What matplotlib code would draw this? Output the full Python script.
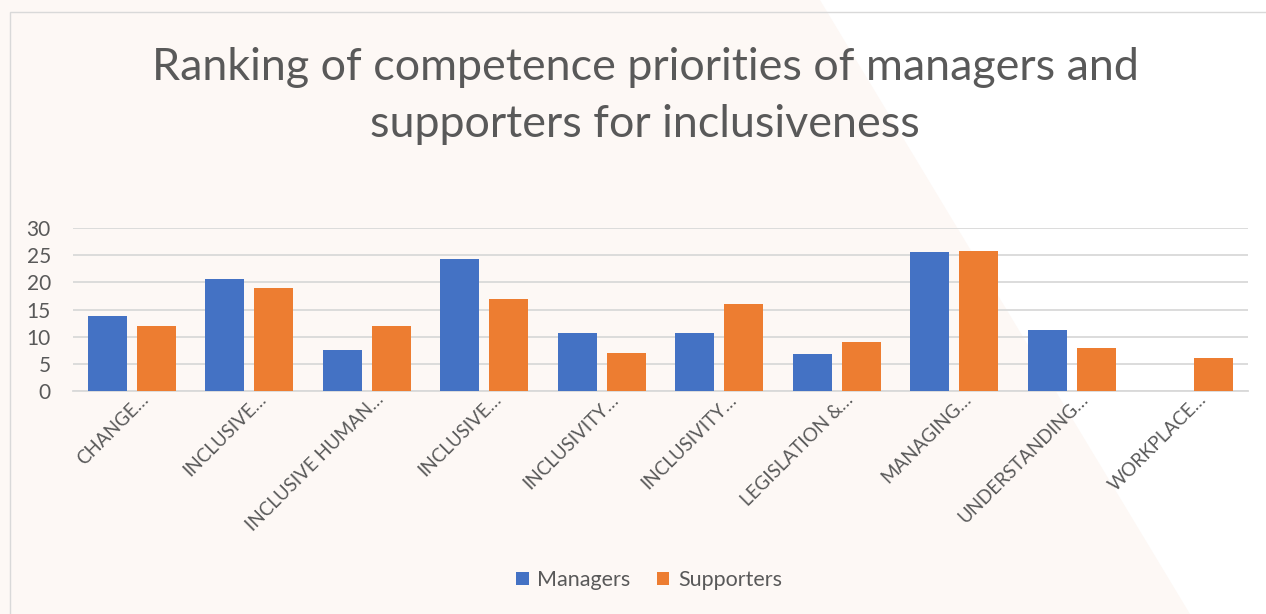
import matplotlib.pyplot as plt
import matplotlib.transforms as mtrans
from matplotlib.patches import Polygon, Rectangle
import numpy as np

plt.rcParams['font.family'] = ['Lato', 'DejaVu Sans']

categories = ["CHANGE…", "INCLUSIVE…", "INCLUSIVE HUMAN…", "INCLUSIVE…",
              "INCLUSIVITY…", "INCLUSIVITY…", "LEGISLATION &…", "MANAGING…",
              "UNDERSTANDING…", "WORKPLACE…"]
managers = [13.8, 20.6, 7.5, 24.3, 10.7, 10.6, 6.9, 25.5, 11.2, 0]
supporters = [12, 19, 12, 17, 7, 16, 9, 25.7, 8, 6]

blue = '#4472c4'
orange = '#ed7d31'
grey_text = '#595959'

W, H = 1266, 614
fig = plt.figure(figsize=(W / 100, H / 100), dpi=100)
fig.patch.set_facecolor('white')

# light tinted backdrop with a white wedge on the right
bg = Polygon([(0, 1), (820 / W, 1), (1190 / W, 0), (0, 0)], closed=True,
             transform=fig.transFigure, facecolor='#fdf8f5',
             edgecolor='none', zorder=-10)
fig.patches.append(bg)

# chart frame
frame = Rectangle((10 / W, -0.1), 1.2, (H - 12) / H + 0.1,
                  transform=fig.transFigure, facecolor='none',
                  edgecolor='#d9d9d9', linewidth=1.0, zorder=-5)
fig.patches.append(frame)

ax = fig.add_axes([73 / W, (H - 391) / H, (1248 - 73) / W, (391 - 228) / H])
ax.set_facecolor('none')

x = np.arange(len(categories))
w = 0.332
off = 0.2085
ax.bar(x - off, managers, w, color=blue, label='Managers', zorder=3)
ax.bar(x + off, supporters, w, color=orange, label='Supporters', zorder=3)

ax.set_xlim(-0.5, len(categories) - 0.5)
ax.set_ylim(0, 30)
ax.set_yticks(range(0, 31, 5))
ax.yaxis.grid(True, color='#d9d9d9', linewidth=1.3, zorder=0)
ax.set_axisbelow(True)
for s in ['top', 'right', 'left']:
    ax.spines[s].set_visible(False)
ax.spines['bottom'].set_color('#d9d9d9')
ax.spines['bottom'].set_linewidth(1.3)
ax.tick_params(axis='both', length=0, colors=grey_text)
ax.tick_params(axis='y', labelsize=15, pad=16)

ax.set_xticks(x)
ax.set_xticklabels(categories, rotation=45, ha='right', va='center',
                   rotation_mode='anchor', fontsize=13.5)
ax.tick_params(axis='x', pad=4)
# nudge the slanted labels so their ends sit just right of each tick
shift = mtrans.ScaledTranslation(14 / 100, 0, fig.dpi_scale_trans)
for lbl in ax.get_xticklabels():
    lbl.set_transform(lbl.get_transform() + shift)

fig.text(645 / W, 1 - 96 / H,
         "Ranking of competence priorities of managers and\nsupporters for inclusiveness",
         ha='center', va='center', fontsize=32.3, color=grey_text,
         linespacing=1.5)

ax.legend(loc='center', bbox_to_anchor=(649 / W, 1 - 580 / H),
          bbox_transform=fig.transFigure, ncol=2, frameon=False,
          fontsize=15.5, labelcolor=grey_text, handlelength=0.6,
          handleheight=0.6, handletextpad=0.4, columnspacing=1.2)

fig.savefig('out.png', dpi=100, facecolor=fig.get_facecolor())
